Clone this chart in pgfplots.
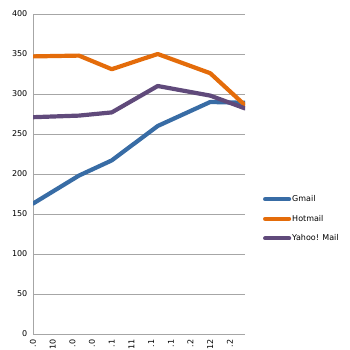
\documentclass[border=0pt]{standalone}
\usepackage{fontspec}
\setmainfont{DejaVu Sans}
\usepackage{pgfplots}
\pgfplotsset{compat=1.18}
\definecolor{gm}{HTML}{386CA5}
\definecolor{hm}{HTML}{E46C0A}
\definecolor{ym}{HTML}{604A7B}
\definecolor{gr}{HTML}{A6A6A6}
\begin{document}
\begin{tikzpicture}[x=1pt,y=1pt]
\begin{axis}[
  at={(33pt,16pt)}, anchor=south west,
  scale only axis, width=212pt, height=320pt,
  xmin=0, xmax=32.3, ymin=0, ymax=400,
  ytick={0,50,...,400},
  xtick={0,3,...,30},
  xticklabels={.0,10,.0,.0,.1,11,.1,.1,.2,12,.2},
  x tick label style={rotate=90, anchor=east, font=\fontsize{8}{9}\selectfont},
  y tick label style={font=\fontsize{8}{9}\selectfont},
  /pgf/number format/assume math mode=true,
  ymajorgrids, grid style={gr, line width=0.8pt},
  axis x line=bottom, axis y line=left,
  axis line style={gr, line width=0.8pt, -},
  tick style={draw=none},
  legend cell align=left,
  legend style={at={(1.07,0.36)}, anchor=west, draw=none, fill=none,
    font=\fontsize{8}{9}\selectfont, row sep=8pt,
    nodes={inner xsep=1pt}},
  legend image code/.code={\draw[#1] (0pt,0pt) -- (24pt,0pt);},
  every axis plot/.append style={line width=4.2pt, line join=round, line cap=round},
]
\addplot[gm] coordinates {(0,163) (7,198) (12,217) (19,260) (27,290) (32.3,289)};
\addlegendentry{Gmail}
\addplot[hm] coordinates {(0,347) (7,348) (12,331) (19,350) (27,326) (32.3,286)};
\addlegendentry{Hotmail}
\addplot[ym] coordinates {(0,271) (7,273) (12,277) (19,310) (27,298) (32.3,282)};
\addlegendentry{Yahoo! Mail}
\end{axis}
\pgfresetboundingbox
\path[use as bounding box] (0,0) rectangle (350,350);
\end{tikzpicture}
\end{document}
